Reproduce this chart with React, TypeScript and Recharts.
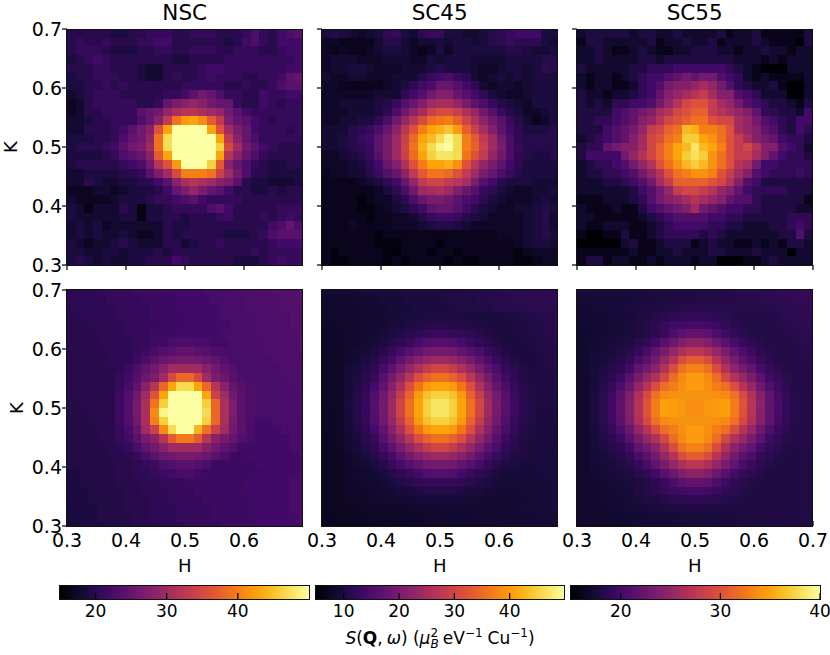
import { Bar, BarChart, Scatter, ScatterChart, XAxis, YAxis } from "recharts";

// measured panels, rows run from K = 0.7 down to K = 0.3
const nscMeasured = [
  [20,20,20,20,20,19,19,20,20,21,21,21,20,20,21,21,21,20,20,20,21,23,21,20,22,23,24],
  [20,21,20,20,21,20,20,20,21,21,22,22,20,20,20,20,20,20,19,20,22,23,21,20,22,22,22],
  [20,21,21,21,20,19,19,19,20,20,21,21,20,20,21,21,21,20,20,21,21,21,20,20,21,22,22],
  [19,20,21,22,21,20,20,20,20,20,20,20,19,19,20,20,20,20,21,21,21,21,21,21,21,21,22],
  [20,20,20,21,21,20,20,20,19,18,18,20,20,20,20,21,22,22,21,21,21,21,21,21,21,22,22],
  [19,20,20,21,21,21,20,20,19,18,18,20,21,20,20,21,22,21,21,21,20,20,21,21,22,24,25],
  [19,19,20,20,21,20,21,20,20,20,20,20,20,21,21,21,21,21,20,20,21,20,20,21,23,24,24],
  [18,19,20,21,21,21,20,20,20,20,20,21,21,22,24,26,25,23,21,21,20,20,22,21,21,22,22],
  [17,18,20,21,21,21,21,21,20,20,21,25,27,28,29,28,26,25,25,21,20,20,22,21,20,21,21],
  [17,18,20,20,21,21,21,21,24,25,26,29,31,32,32,31,30,29,26,24,22,21,21,21,21,21,21],
  [18,18,19,20,20,21,21,21,23,25,28,33,39,42,43,41,37,33,27,25,24,22,21,20,21,21,21],
  [18,18,20,20,20,21,22,24,26,28,36,43,55,55,55,55,43,36,30,27,25,22,21,21,21,20,21],
  [19,19,19,20,20,21,23,25,26,29,39,47,55,55,55,55,55,43,33,28,25,23,21,21,21,21,21],
  [19,20,20,20,21,22,24,26,27,30,39,47,55,55,55,55,55,46,35,30,26,24,22,21,20,20,20],
  [19,19,19,19,20,21,23,24,25,28,37,43,55,55,55,55,55,43,32,28,25,23,21,20,20,20,20],
  [19,20,20,20,20,20,21,22,23,26,32,36,42,55,55,55,46,37,28,25,23,21,20,19,19,20,20],
  [18,18,19,19,19,19,20,20,21,24,27,30,35,40,40,40,39,34,30,26,23,20,20,19,19,19,19],
  [18,18,20,19,18,18,19,19,20,20,22,24,28,31,32,31,30,28,27,24,20,19,19,18,18,18,19],
  [17,17,17,18,18,17,18,19,19,19,20,22,25,27,29,27,25,24,22,20,20,19,19,20,19,20,20],
  [18,17,17,17,17,18,19,19,19,20,21,21,22,23,24,22,21,21,21,21,20,20,20,20,20,20,20],
  [19,18,16,18,18,18,20,19,16,19,19,20,21,21,21,21,23,24,22,20,20,20,20,20,21,21,21],
  [19,18,18,18,18,18,19,19,16,19,19,20,20,19,20,20,20,21,22,20,20,20,21,20,21,22,21],
  [18,19,18,19,17,18,18,18,18,18,18,20,19,19,20,20,20,20,20,20,20,20,20,22,23,25,23],
  [18,19,18,19,18,18,19,18,17,17,18,20,19,20,20,20,20,20,19,19,19,20,21,23,24,24,24],
  [19,18,17,18,18,19,20,19,18,18,18,20,20,18,19,20,20,21,20,20,20,20,20,21,22,22,22],
  [19,19,18,18,19,19,18,19,19,19,20,19,20,20,20,20,20,20,20,20,20,21,20,21,21,21,21],
  [19,20,19,18,19,18,18,19,19,20,20,20,22,21,20,20,20,20,20,19,19,19,20,21,22,21,21],
];

const sc45Measured = [
  [10,11,10,9,8,9,10,12,13,10,9,12,13,13,10,10,9,9,10,11,12,13,14,14,14,10,10],
  [8,8,7,7,7,7,9,11,11,9,8,9,9,10,9,10,10,9,10,11,12,13,12,12,12,10,9],
  [8,7,8,7,7,8,9,10,10,9,8,7,8,10,8,10,10,10,10,10,10,11,11,10,9,9,10],
  [8,9,9,9,8,8,8,9,9,9,8,8,10,9,10,10,10,9,9,9,9,10,10,10,10,11,11],
  [8,9,9,10,10,9,8,8,8,9,9,9,10,11,10,10,10,9,8,8,9,10,10,9,10,12,11],
  [9,8,8,9,9,8,8,8,9,9,9,11,13,14,15,13,12,9,8,9,10,9,10,9,10,10,10],
  [8,8,7,7,7,7,7,8,9,10,12,14,15,18,18,16,14,12,9,8,9,9,8,9,10,10,10],
  [8,8,8,8,8,8,9,9,9,12,14,16,19,21,21,18,16,14,12,10,9,8,8,9,10,10,10],
  [8,8,9,9,9,9,10,11,13,16,18,21,24,25,25,23,20,17,15,13,11,10,9,8,10,10,10],
  [8,8,8,9,9,9,10,12,15,19,22,25,29,31,31,29,26,23,19,16,13,11,10,8,8,9,10],
  [8,8,9,9,10,10,12,15,19,23,27,31,35,36,37,34,30,26,22,19,16,13,11,9,7,8,10],
  [9,9,9,11,12,13,15,18,22,27,32,37,41,42,44,40,34,29,25,21,17,14,12,10,10,10,11],
  [9,9,10,11,13,14,17,20,24,29,35,41,43,46,49,46,37,33,28,24,19,15,12,11,11,11,11],
  [9,9,10,11,12,13,17,20,24,30,36,42,46,49,50,46,37,34,29,24,20,15,13,11,11,11,11],
  [8,8,9,10,11,13,16,20,24,29,35,41,45,47,47,46,36,32,28,23,19,15,12,11,10,10,11],
  [8,8,8,9,10,12,14,18,21,26,32,37,41,41,42,39,32,27,23,20,17,14,12,10,10,10,10],
  [7,8,8,9,9,11,13,16,18,22,28,33,36,36,35,32,28,24,20,18,15,13,11,10,10,10,10],
  [7,7,7,7,8,9,10,12,14,18,23,28,30,30,28,27,25,20,16,14,11,10,10,10,9,9,9],
  [7,7,7,7,7,7,8,10,12,15,19,24,25,26,24,21,18,16,13,12,10,9,8,8,9,9,10],
  [7,7,7,7,6,7,8,8,10,12,15,18,20,20,19,17,15,14,12,10,9,8,8,8,9,10,9],
  [7,7,7,7,6,6,7,8,9,10,12,14,17,18,18,16,14,12,10,9,8,8,9,9,10,11,10],
  [7,7,7,7,7,6,7,7,8,8,9,11,13,14,14,13,11,10,9,8,8,8,8,9,10,11,9],
  [7,7,7,8,7,7,7,7,8,8,8,9,10,11,11,10,9,8,8,8,8,8,8,9,10,11,9],
  [7,7,7,7,7,7,6,7,7,7,7,7,7,7,7,7,7,7,7,7,8,8,8,9,10,11,10],
  [7,7,7,7,7,7,6,6,6,7,7,7,7,6,7,7,7,7,7,7,7,7,8,9,10,10,9],
  [7,6,7,7,7,7,7,6,5,7,7,7,6,7,7,6,7,7,7,7,7,7,6,7,8,8,8],
  [7,6,6,7,7,7,7,6,7,6,7,7,7,7,6,7,6,6,7,7,7,7,6,6,7,8,8],
];

const sc55Measured = [
  [17,18,18,18,18,18,17,18,18,17,17,18,17,17,17,17,18,16,17,17,18,16,16,16,16,16,18],
  [16,18,18,17,17,17,17,17,18,16,17,17,18,17,17,18,16,17,17,17,18,17,16,16,16,15,18],
  [17,17,18,17,16,16,17,18,17,16,16,17,17,18,18,18,17,17,16,17,17,18,17,17,16,17,17],
  [17,17,18,17,17,17,17,18,18,17,18,18,18,18,18,18,18,18,17,17,17,16,17,16,17,17,17],
  [18,17,17,17,17,17,18,18,19,19,19,20,20,20,20,20,20,19,18,17,16,15,15,15,17,17,17],
  [17,16,17,17,16,17,18,19,20,20,21,22,23,22,23,23,21,20,19,17,16,17,16,16,16,16,17],
  [17,16,17,17,16,16,17,19,20,21,23,24,24,25,26,25,23,21,19,18,17,17,18,16,15,15,17],
  [18,17,17,16,17,17,18,19,20,22,24,25,26,27,28,26,24,24,21,20,19,17,17,17,15,15,17],
  [18,17,18,17,19,19,20,20,21,23,25,27,29,30,30,28,26,25,23,21,20,19,18,18,17,16,18],
  [18,18,18,18,20,21,22,23,24,26,27,29,30,31,31,28,27,26,25,24,22,19,19,18,18,17,20],
  [18,18,19,19,20,21,22,24,25,27,29,30,31,32,32,30,29,29,26,25,23,21,20,19,18,20,20],
  [18,18,18,20,21,22,23,25,28,29,31,32,36,35.5,33,33,32,30,26,25,24,22,21,19,18,20,19],
  [17,18,19,20,21,22,24,26,29,30,32,33,37,37,35,34,32,30,28,26,24,23,22,20,19,19,18],
  [18,19,19,22,23,24,24,26,29,31,33,35,36,38.5,36,35,33,30,28,29,27,24,24,21,20,19,17],
  [18,20,20,20,20,23,25,27,29,31,33,35,37,38,37,34,32,30,28,28,26,24,22,20,19,19,18],
  [17,18,19,19,20,21,23,25,27,30,32,34,36,37,36,34,32,30,27,26,23,20,20,19,19,19,19],
  [17,18,18,19,19,20,21,23,25,27,30,32,33,34,34,33,30,28,26,24,21,20,19,19,19,20,19],
  [17,17,17,18,18,19,20,21,23,26,28,31,31,31,31,30,29,27,24,21,20,18,18,18,18,18,18],
  [17,17,17,17,17,17,18,20,21,23,25,28,29,29,28,27,25,24,22,20,19,19,19,19,18,18,18],
  [16,16,16,17,17,17,18,19,21,23,24,25,26,27,26,25,24,22,21,21,19,18,18,18,18,18,16],
  [17,16,16,16,17,16,16,18,20,21,22,23,24,26,23,22,21,20,20,19,19,18,18,18,18,17,17],
  [17,17,16,16,16,16,16,17,18,19,20,21,21,21,21,20,20,19,19,18,18,18,18,18,19,19,19],
  [17,16,16,17,17,17,16,16,17,18,19,20,20,20,20,19,19,18,18,17,17,17,18,18,19,20,19],
  [16,15,15,16,16,18,16,16,17,18,19,19,19,19,18,19,18,17,17,17,17,17,17,18,18,21,18],
  [15,15,15,15,15,17,18,16,16,17,18,18,18,16,17,18,17,17,16,16,17,16,17,16,18,18,17],
  [16,16,16,16,16,16,17,16,16,17,17,18,17,17,17,18,18,17,17,17,18,17,17,17,15,17,17],
  [16,18,18,16,17,17,16,16,17,16,17,17,17,16,17,17,15,15,15,16,16,17,18,17,17,17,17],
];

// model panels, 28 points per row
const nscModel = [
  [20.5,20.5,20.5,20.5,21,21,21,21,21.5,21.5,21.5,21.5,22,22,22,22,22.5,22.5,22.5,22.5,23,23,23,23,23.5,23.5,23.5,24],
  [20.5,20.5,20.5,20.5,20.5,21,21,21,21,21.5,21.5,21.5,21.5,22,22,22,22,22.5,22.5,22.5,22.5,23,23,23,23,23.5,23.5,24],
  [20,20.5,20.5,20.5,20.5,20.5,21,21,21,21,21.5,21.5,21.5,22,22,22,22,22,22.5,22.5,22.5,23,23,23,23,23.5,23.5,23.5],
  [20,20,20.5,20.5,20.5,20.5,21,21,21,21,21.5,21.5,21.5,21.5,22,22,22,22,22.5,22.5,22.5,22.5,23,23,23,23,23.5,23.5],
  [20,20,20,20.5,20.5,20.5,20.5,21,21,21,21,21.5,21.5,21.5,22,22,22,22,22,22.5,22.5,22.5,23,23,23,23,23.5,23.5],
  [20,20,20,20,20.5,20.5,20.5,21,21,21,21.5,21.5,21.5,22,22,22,22,22,22.5,22.5,22.5,22.5,23,23,23,23,23,23.5],
  [20,20,20,20,20.5,20.5,20.5,20.5,21,21,21.5,22,22.5,23,23,22.5,22.5,22,22,22.5,22.5,22.5,22.5,23,23,23,23,23.5],
  [20,20,20,20,20,20.5,20.5,20.5,21,21.5,22.5,23.5,24,24.5,24.5,24,23.5,23,22.5,22.5,22.5,22.5,22.5,23,23,23,23,23.5],
  [20,20,20,20,20,20.5,20.5,20.5,21.5,22.5,24,25.5,26,26.5,26.5,26,25.5,24.5,23.5,22.5,22.5,22.5,22.5,22.5,23,23,23,23],
  [20,20,20,20,20,20,20.5,21.5,23,24.5,26,28,30,30,30,30,28,26,24.5,23.5,22.5,22.5,22.5,22.5,22.5,23,23,23],
  [20,20,20,20,20,20,21,22,23.5,25.5,27,30,35,38,38,35,30,27,25.5,24,23,22.5,22.5,22.5,22.5,23,23,23],
  [20,20,20,20,20,20,21,22.5,24.5,28,32,38,43,47,47,43,38,32,28,25,23.5,23,22.5,22.5,22.5,22.5,23,23],
  [20,20,20,20,20,20,21.5,23.5,26,30,36,43,55,55,55,55,43,34,30,26,24,23,22.5,22.5,22.5,22.5,22.5,23],
  [19.5,19.5,20,20,20,20,21.5,23.5,26.5,31,39,46,55,55,55,55,46,38,31,27,24,23,22.5,22.5,22.5,22.5,22.5,23],
  [19.5,19.5,19.5,20,20,20,21.5,23.5,26.5,31,41,49,55,55,55,55,47,38,31,27,24,23,22.5,22.5,22.5,22.5,22.5,23],
  [19.5,19.5,19.5,20,20,20,21.5,23.5,26,31,40,46,55,55,55,55,46,38,31,26.5,24,23,22,22,22.5,22.5,22.5,22.5],
  [19.5,19.5,19.5,19.5,20,20,21,22.5,25,30,34,41,47,51,50,44,39,34,30,26,24,22.5,22,22,22,22.5,22.5,22.5],
  [19.5,19.5,19.5,19.5,20,20,21,22,24,26.5,28,32,37,39.5,39.5,37,32,28,26.5,25,23.5,22.5,22,22,22,22,22.5,22.5],
  [19.5,19.5,19.5,19.5,19.5,20,20.5,21,22.5,24.5,26,28,30,30,30,30,28,26,24.5,23.5,22,22,22,22,22,22,22.5,22.5],
  [19.5,19.5,19.5,19.5,19.5,20,20,20.5,21,22.5,24,25.5,26,26.5,26.5,26,25.5,24,23,21.5,21.5,22,22,22,22,22,22,22.5],
  [19.5,19.5,19.5,19.5,19.5,19.5,20,20,20.5,21,21.5,23,23.5,24,24,23.5,23,21.5,21.5,21.5,21.5,21.5,22,22,22,22,22,22],
  [19,19,19.5,19.5,19.5,19.5,20,20,20.5,20.5,21,21.5,22,22.5,22.5,22,21.5,21.5,21.5,21.5,21.5,21.5,21.5,22,22,22,22,22.5],
  [19,19,19.5,19.5,19.5,19.5,20,20,20,20.5,20.5,21,21,21,21.5,21.5,21.5,21.5,21.5,21.5,21.5,22,22,22,22,22,22.5,22.5],
  [19,19,19,19.5,19.5,19.5,19.5,20,20,20.5,20.5,20.5,21,21,21,21.5,21.5,21.5,21.5,21.5,21.5,22,22,22,22,22,22.5,22.5],
  [19,19,19,19.5,19.5,19.5,19.5,20,20,20,20.5,20.5,21,21,21,21,21.5,21.5,21.5,21.5,21.5,21.5,22,22,22,22,22.5,22.5],
  [18.5,19,19,19,19.5,19.5,19.5,20,20,20,20.5,20.5,20.5,21,21,21,21,21.5,21.5,21.5,21.5,21.5,22,22,22,22,22.5,22.5],
  [18.5,19,19,19,19.5,19.5,19.5,19.5,20,20,20.5,20.5,20.5,21,21,21,21,21.5,21.5,21.5,21.5,21.5,22,22,22,22,22,22.5],
  [18.5,18.5,19,19,19,19.5,19.5,19.5,20,20,20,20.5,20.5,20.5,21,21,21,21,21.5,21.5,21.5,21.5,22,22,22,22,22,22.5],
];

const sc45Model = [
  [9,9,9,9,9,9.5,9.5,9.5,10,10,10,10,10,10.5,10.5,10.5,10.5,11,11,11,11,11.5,11.5,11.5,11.5,12,12,12],
  [8.5,8.5,8.5,8.5,9,9,9,9.5,9.5,9.5,10,10,10,10,10.5,10.5,10.5,10.5,11,11,11,11,11.5,11.5,11.5,11.5,12,12],
  [8.5,8.5,8.5,8.5,8.5,9,9,9,9.5,9.5,9.5,10,10,10,10,10.5,10.5,10.5,10.5,10.5,11,11,11,11,11.5,11.5,11.5,12],
  [8.5,8.5,8.5,8.5,8.7,8.8,9,9.1,9.3,9.5,9.8,10,10.2,10.3,10.3,10.3,10.2,10,9.9,9.8,10,10.1,10.3,10.5,10.7,11,11.3,11.7],
  [8.3,8.3,8.4,8.5,8.6,8.8,9,9.2,9.5,9.8,10.3,10.6,11,11.2,11.2,11,10.8,10.5,10.3,10,9.8,10,10.2,10.4,10.6,10.9,11.2,11.5],
  [8.2,8.2,8.3,8.5,8.7,8.9,9.2,9.6,10.1,10.8,11.4,12.1,12.6,12.9,12.9,12.6,12.2,11.7,11.2,10.5,10.2,10,10.1,10.3,10.5,10.8,11,11.3],
  [8.1,8.1,8.2,8.5,8.7,9,9.4,10,11,12,13,14.5,15.5,16,16,15.5,14.6,13.2,12.3,11.3,10.5,10.1,10,10.1,10.4,10.7,10.9,11.2],
  [8,8,8.1,8.5,9,9.4,10,11.2,12.6,14.5,16,17.5,19,19.5,19.5,19,17.6,16.2,14.8,13,11.7,10.6,10.2,10.1,10.2,10.5,10.8,11.1],
  [8,8,8,8.7,9.3,10,11,12.6,14.5,17,19.5,21.5,23,24,24,23,21.6,19.7,17.3,14.9,13.1,11.6,10.7,10.2,10.1,10.4,10.7,11],
  [7.9,7.9,8,9,9.8,10.8,12,14.5,17,20,23,26,28.5,30,30,28.5,26,23.2,20.2,17.3,14.9,12.6,11.5,10.6,10.2,10.3,10.6,10.9],
  [7.9,7.9,8,9.3,10,11.3,13,16,19.5,23,27,31.5,34,35.6,35.6,34,31.5,27.2,23.2,19.7,16.4,13.6,12,10.8,10.4,10.3,10.5,10.8],
  [7.8,7.8,8,9.5,10.5,12,14.5,17.5,21.5,26,31.5,36,40,41,41,40,36,31.5,26.2,21.7,17.9,15,12.7,11.3,10.5,10.3,10.4,10.7],
  [7.8,7.8,8,9.7,10.8,12.5,15.5,19,23,28.5,34,40,43.5,45,45,43.5,40,34,28.7,23.2,19.4,16,13.2,11.6,10.7,10.3,10.4,10.6],
  [7.8,7.8,8,9.8,11,12.8,16,19.5,24,30,35.6,41,45,47,47,45,41,35.6,30.2,24.2,19.9,16.5,13.5,11.8,10.8,10.3,10.3,10.5],
  [7.7,7.7,7.9,9.7,10.9,12.7,15.9,19.4,24,30,35.6,41,45,47,47,45,41,35.6,30,24,19.8,16.3,13.3,11.6,10.7,10.2,10.2,10.4],
  [7.7,7.7,7.9,9.5,10.7,12.4,15.4,19,23,28.5,34,40,43.5,45,45,43.5,40,34,28.5,23.1,19.2,15.8,13,11.4,10.5,10.1,10.1,10.3],
  [7.7,7.7,7.9,9.3,10.4,11.9,14.4,17.5,21.5,26,31.5,36,40,41,41,40,36,31.5,26,21.6,17.7,14.8,12.4,11,10.3,10,10,10.2],
  [7.6,7.6,7.8,9.1,9.9,11.2,12.9,16,19.5,23,27,31.5,34,35.6,35.6,34,31.5,27,23,19.5,16.2,13.4,11.8,10.6,10.1,10,10,10.1],
  [7.6,7.6,7.8,8.8,9.7,10.7,11.9,14.4,17,20,23,26,28.5,30,30,28.5,26,23,20,17,14.7,12.4,11.2,10.4,10,9.9,9.9,10],
  [7.5,7.5,7.7,8.5,9.2,9.9,10.9,12.5,14.5,17,19.5,21.5,23,24,24,23,21.5,19.5,17,14.7,12.9,11.3,10.4,10,9.8,9.8,9.9,10],
  [7.5,7.5,7.6,8.3,8.8,9.3,9.9,11.1,12.6,14.5,16,17.5,19,19.5,19.5,19,17.5,16,14.5,12.8,11.4,10.3,10,9.7,9.7,9.8,9.8,9.9],
  [7.5,7.5,7.5,8.1,8.5,8.9,9.3,9.9,10.9,11.9,13,14.5,15.5,16,16,15.5,14.5,13,12,11,10.2,9.7,9.5,9.5,9.6,9.7,9.8,9.9],
  [7.4,7.4,7.5,8,8.3,8.6,8.9,9.4,9.9,10.7,11.2,12,12.4,12.7,12.7,12.4,12,11.3,10.8,10,9.7,9.4,9.3,9.4,9.5,9.6,9.7,9.8],
  [7.4,7.4,7.5,7.9,8.1,8.3,8.6,8.9,9.2,9.7,9.9,10.4,10.7,10.9,10.9,10.7,10.4,10,9.8,9.4,9.2,9.1,9.2,9.3,9.4,9.5,9.6,9.7],
  [7.4,7.4,7.5,7.8,8,8.2,8.4,8.6,8.8,9,9.2,9.4,9.6,9.7,9.7,9.6,9.4,9.3,9.1,9,8.9,9,9.1,9.2,9.3,9.4,9.5,9.6],
  [7.4,7.4,7.5,7.6,7.7,7.8,8,8.1,8.2,8.3,8.4,8.5,8.6,8.7,8.8,8.8,8.8,8.8,8.9,8.9,9,9.1,9.2,9.3,9.3,9.4,9.5,9.6],
  [7.3,7.3,7.4,7.5,7.6,7.7,7.8,7.9,8,8.1,8.2,8.3,8.4,8.5,8.6,8.6,8.7,8.7,8.8,8.8,8.9,9,9.1,9.1,9.2,9.3,9.4,9.5],
  [7.2,7.3,7.4,7.5,7.5,7.6,7.7,7.8,7.9,8,8.1,8.2,8.3,8.3,8.4,8.5,8.6,8.6,8.7,8.8,8.8,8.9,9,9,9.1,9.2,9.3,9.4],
];

const sc55Model = [
  [17.5,17.5,17.5,17.5,17.6,17.6,17.7,17.7,17.8,17.8,17.9,18,18,18.1,18.2,18.2,18.3,18.4,18.5,18.5,18.6,18.7,18.8,18.9,19,19.1,19.2,19.3],
  [17.4,17.4,17.4,17.5,17.5,17.6,17.6,17.7,17.7,17.8,17.8,17.9,18,18,18.1,18.1,18.2,18.3,18.4,18.4,18.5,18.6,18.7,18.8,18.9,19,19.1,19.2],
  [17.3,17.3,17.4,17.4,17.5,17.6,17.7,17.8,17.9,18,18.1,18.3,18.4,18.5,18.5,18.5,18.4,18.4,18.4,18.4,18.4,18.4,18.5,18.6,18.7,18.8,18.9,19.1],
  [17.2,17.2,17.2,17.3,17.4,17.5,17.6,17.8,18,18.2,18.5,18.8,19,19.1,19.1,19,18.8,18.6,18.4,18.3,18.2,18.2,18.3,18.4,18.6,18.7,18.8,19],
  [17.2,17.2,17.2,17.3,17.4,17.5,17.7,18,18.3,18.8,19.3,19.8,20,20.2,20.2,20,19.6,19.1,18.7,18.4,18.2,18.1,18.2,18.4,18.5,18.6,18.8,18.9],
  [17.1,17.1,17.2,17.3,17.4,17.5,17.7,18,18.3,18.8,19.5,20.5,21.5,22,22,21.5,20.7,19.8,19.1,18.7,18.4,18.2,18.2,18.3,18.4,18.5,18.7,18.8],
  [17.1,17.1,17.3,17.4,17.5,17.7,18,18.5,19,20,21.3,22.5,23.8,24.5,24.5,23.8,22.6,21.5,20.3,19.3,18.9,18.5,18.2,18.2,18.3,18.4,18.6,18.7],
  [17,17,17.3,17.5,17.7,18,18.5,19.3,20.3,21.8,23.3,25,26.5,27.5,27.5,26.5,25,23.4,22,20.5,19.7,18.9,18.5,18.2,18.2,18.3,18.5,18.6],
  [17,17,17.4,17.7,18,18.3,19,20.3,21.3,23,25,27,29.5,30.7,30.7,29.5,27,25,23.1,21.5,20.6,19.4,18.7,18.4,18.2,18.2,18.4,18.5],
  [17,17,17.5,18,18.3,18.8,20,21.8,23,24.5,26.8,29.5,32,33,33,32,29.5,26.8,24.6,23.1,22,20.3,19.2,18.7,18.4,18.2,18.3,18.5],
  [16.9,16.9,17.6,18.1,18.7,19.5,21.3,23.3,25,26.8,29,31.8,33.5,34.5,34.5,33.5,31.8,29,26.9,25.1,23.5,21.6,19.9,19.2,18.6,18.3,18.3,18.4],
  [16.9,16.9,17.7,18.4,19.2,20.5,22.5,25,27,29.5,31.8,32.8,33.8,34.5,34.5,33.8,32.8,31.8,29.6,27.1,25.2,22.8,20.9,19.7,18.9,18.3,18.3,18.4],
  [16.9,16.9,17.8,18.6,19.7,21.5,23.8,26.5,29.3,32,33.5,33.8,34,34,34,34,33.8,33.5,32,29.4,26.7,24.1,21.9,20.2,19.1,18.4,18.3,18.3],
  [16.9,16.9,17.8,18.7,19.9,21.7,24,27,30,32.7,34.7,34.5,34.3,33.7,33.7,34.3,34.5,34.7,32.7,30.1,27.2,24.3,22,20.4,19.2,18.4,18.3,18.3],
  [16.9,16.9,17.8,18.7,19.9,21.7,24,27,30,32.7,34.7,34.5,34.3,33.7,33.7,34.3,34.5,34.7,32.7,30,27.1,24.2,21.9,20.3,19.1,18.4,18.3,18.3],
  [16.9,16.9,17.8,18.6,19.7,21.5,23.8,26.5,29.3,32,33.5,33.8,34,34,34,34,33.8,33.5,32,29.3,26.6,24,21.8,20.1,19,18.4,18.2,18.3],
  [16.9,16.9,17.7,18.4,19.2,20.5,22.5,25,27,29.5,31.8,32.8,33.8,34.5,34.5,33.8,32.8,31.8,29.5,27,25.1,22.7,20.8,19.6,18.8,18.3,18.2,18.3],
  [16.9,16.9,17.6,18.1,18.7,19.5,21.3,23.3,25,26.8,29,31.8,33.5,34.5,34.5,33.5,31.8,29,26.8,25,23.4,21.5,19.8,19,18.5,18.2,18.2,18.2],
  [16.9,16.9,17.5,18,18.3,18.8,20,21.8,23,24.5,26.8,29.5,32,33,33,32,29.5,26.8,24.5,23,21.9,20.2,19.1,18.6,18.3,18.1,18.2,18.2],
  [16.9,16.9,17.4,17.7,18,18.3,19,20.3,21.3,23,25,27,29.5,30.7,30.7,29.5,27,25,23,21.4,20.5,19.3,18.6,18.3,18.1,18,18.1,18.2],
  [16.9,16.9,17.3,17.5,17.7,18,18.5,19.3,20.3,21.8,23.3,25,26.5,27.5,27.5,26.5,25,23.3,21.9,20.4,19.6,18.8,18.4,18.1,18,18,18.1,18.2],
  [16.9,16.9,17.2,17.4,17.5,17.7,18,18.5,19,20,21.3,22.5,23.8,24.5,24.5,23.8,22.5,21.4,20.2,19.2,18.8,18.4,18.1,18,18,18,18.1,18.2],
  [16.9,16.9,17.1,17.3,17.4,17.5,17.7,18,18.3,18.8,19.5,20.5,21.5,22,22,21.5,20.6,19.7,19,18.6,18.3,18.1,18,18,18,18,18.1,18.2],
  [16.9,16.9,17.1,17.2,17.3,17.4,17.6,17.9,18.2,18.7,19.2,19.7,19.9,20.1,20.1,19.9,19.5,19,18.6,18.3,18.1,18,18,18,18,18,18.1,18.2],
  [16.9,16.9,17.1,17.2,17.2,17.3,17.5,17.7,17.9,18.1,18.4,18.6,18.8,18.9,18.9,18.8,18.6,18.4,18.2,18.1,18,18,18,18,18,18,18.1,18.2],
  [16.9,16.9,17,17.1,17.2,17.3,17.4,17.5,17.6,17.7,17.8,17.9,18,18,18,18,18,18,18,18,18,18,18,18,18,18,18.1,18.2],
  [16.9,16.9,17,17,17.1,17.1,17.2,17.2,17.3,17.3,17.4,17.4,17.5,17.5,17.6,17.6,17.7,17.7,17.8,17.8,17.9,17.9,18,18,18,18,18.1,18.1],
  [16.8,16.8,16.9,17,17,17.1,17.1,17.2,17.2,17.3,17.3,17.4,17.4,17.5,17.5,17.6,17.6,17.7,17.7,17.8,17.8,17.9,17.9,18,18,18,18,18.1],
];

const panelTitles = ["NSC", "SC45", "SC55"];
const colorRanges = [[15, 50], [5, 50], [15, 40]];
const colorTicks = [[20, 30, 40], [10, 20, 30, 40], [20, 30, 40]];
const axisTicks = [0.3, 0.4, 0.5, 0.6, 0.7];
const infernoStops = ["#000004", "#160b39", "#420a68", "#6a176e", "#932667", "#bc3754", "#dd513a", "#f37819", "#fca50a", "#f6d746", "#fcffa4"];

const FONT = "'DejaVu Sans', sans-serif";
const PLOT = 236;
const STEP = 0.4 / 27;
const CELL = PLOT / 27;
const PAD_LEFT = 62;
const PAD_TOP = 10;
const panelX = [66.7, 321.7, 576.7];
const panelY = [29.3, 290];
const barX = [60, 315.8, 571];
const BAR_W = 249;

function hexToRgb(hex: string) {
  return [1, 3, 5].map((i) => parseInt(hex.slice(i, i + 2), 16));
}

function inferno(value: number, min: number, max: number) {
  const t = Math.min(1, Math.max(0, (value - min) / (max - min))) * 10;
  const i = Math.min(9, Math.floor(t));
  const a = hexToRgb(infernoStops[i]);
  const b = hexToRgb(infernoStops[i + 1]);
  const c = a.map((v, n) => Math.round(v + (b[n] - v) * (t - i)));
  return `rgb(${c[0]},${c[1]},${c[2]})`;
}

function toPoints(grid: number[][], model: boolean) {
  return grid.flatMap((row, r) =>
    row.map((v, i) => ({
      h: model ? 0.3 + i * STEP : 0.3 + (i + 0.5) * STEP,
      k: model ? 0.7 - r * STEP : 0.7 - (r + 0.5) * STEP,
      v,
    }))
  );
}

function Label({ x, y, size, rotate, children }: any) {
  return (
    <div
      style={{
        position: "absolute",
        left: x,
        top: y,
        transform: `translate(-50%, -50%)${rotate ? " rotate(-90deg)" : ""}`,
        fontFamily: FONT,
        fontSize: size,
        color: "#000",
        whiteSpace: "nowrap",
      }}
    >
      {children}
    </div>
  );
}

function Heatmap({ grid, model, col, row }: { grid: number[][]; model: boolean; col: number; row: number }) {
  const [min, max] = colorRanges[col];
  const left = panelX[col];
  const top = panelY[row];
  const xTicks = col === 2 ? axisTicks : axisTicks.slice(0, 4);
  const showX = row === 1;
  const showY = col === 0;
  const tickSize = row === 1 ? -5 : 5;
  const tickMargin = row === 1 ? 13 : 1;

  const cell = (props: any) => {
    const x0 = Math.max(props.cx - CELL / 2, PAD_LEFT);
    const x1 = Math.min(props.cx + CELL / 2, PAD_LEFT + PLOT);
    const y0 = Math.max(props.cy - CELL / 2, PAD_TOP);
    const y1 = Math.min(props.cy + CELL / 2, PAD_TOP + PLOT);
    return (
      <rect
        x={x0}
        y={y0}
        width={x1 - x0 + 0.3}
        height={y1 - y0 + 0.3}
        fill={inferno(props.payload.v, min, max)}
        shapeRendering="crispEdges"
      />
    );
  };

  return (
    <>
      <div style={{ position: "absolute", left: left - PAD_LEFT, top: top - PAD_TOP }}>
        <ScatterChart
          width={PAD_LEFT + PLOT + 20}
          height={PAD_TOP + PLOT + 50}
          margin={{ top: PAD_TOP, right: 20, bottom: 0, left: 0 }}
        >
          <Scatter data={toPoints(grid, model)} dataKey="k" shape={cell} isAnimationActive={false} />
          <XAxis
            type="number"
            dataKey="h"
            domain={[0.3, 0.7]}
            allowDataOverflow
            ticks={xTicks}
            interval={0}
            height={50}
            axisLine={false}
            tickSize={tickSize}
            tickMargin={tickMargin}
            tickLine={{ stroke: "#000", strokeWidth: 1.2 }}
            tick={{ fill: "#000", fontSize: 19, fontFamily: FONT }}
            tickFormatter={(v: number) => (showX ? v.toFixed(1) : "")}
          />
          <YAxis
            type="number"
            dataKey="k"
            domain={[0.3, 0.7]}
            allowDataOverflow
            ticks={axisTicks}
            interval={0}
            width={PAD_LEFT}
            axisLine={false}
            tickSize={col === 0 ? 5 : row === 1 ? -5 : 5}
            tickMargin={col === 0 ? 0 : row === 1 ? 11 : 1}
            tickLine={{ stroke: "#000", strokeWidth: 1.2 }}
            tick={{ fill: "#000", fontSize: 19, fontFamily: FONT }}
            tickFormatter={(v: number) => (showY ? v.toFixed(1) : "")}
          />
        </ScatterChart>
      </div>
      <div
        style={{
          position: "absolute",
          left: left - 0.7,
          top: top - 0.7,
          width: PLOT + 1.4,
          height: PLOT + 1.4,
          boxSizing: "border-box",
          border: "1.4px solid #111",
          pointerEvents: "none",
        }}
      />
    </>
  );
}

function Colorbar({ col }: { col: number }) {
  const [min, max] = colorRanges[col];
  const id = `inferno-${col}`;
  return (
    <>
      <div style={{ position: "absolute", left: barX[col], top: 586 }}>
        <BarChart
          width={BAR_W + 16}
          height={42}
          layout="vertical"
          data={[{ band: "s", span: [min, max] }]}
          barCategoryGap={0}
          margin={{ top: 0, right: 16, bottom: 0, left: 0 }}
        >
          <defs>
            <linearGradient id={id} x1="0" y1="0" x2="1" y2="0">
              {infernoStops.map((c, i) => (
                <stop key={c} offset={i / 10} stopColor={c} />
              ))}
            </linearGradient>
          </defs>
          <Bar dataKey="span" fill={`url(#${id})`} isAnimationActive={false} />
          <XAxis
            type="number"
            domain={[min, max]}
            ticks={colorTicks[col]}
            interval={0}
            height={29}
            axisLine={false}
            tickSize={-6}
            tickMargin={12}
            tickLine={{ stroke: "#000", strokeWidth: 1.2 }}
            tick={{ fill: "#000", fontSize: 17, fontFamily: FONT }}
          />
          <YAxis type="category" dataKey="band" hide />
        </BarChart>
      </div>
      <div
        style={{
          position: "absolute",
          left: barX[col] - 0.7,
          top: 585.3,
          width: BAR_W + 1.4,
          height: 14.4,
          boxSizing: "border-box",
          border: "1.4px solid #111",
          pointerEvents: "none",
        }}
      />
    </>
  );
}

export default function App() {
  const measured = [nscMeasured, sc45Measured, sc55Measured];
  const models = [nscModel, sc45Model, sc55Model];
  return (
    <div style={{ position: "absolute", left: 0, top: 0, width: 830, height: 655, background: "#fff", overflow: "hidden" }}>
      {measured.map((grid, col) => (
        <Heatmap key={col} grid={grid} model={false} col={col} row={0} />
      ))}
      {models.map((grid, col) => (
        <Heatmap key={col} grid={grid} model col={col} row={1} />
      ))}
      {colorRanges.map((_, col) => (
        <Colorbar key={col} col={col} />
      ))}
      {panelTitles.map((title, col) => (
        <Label key={title} x={panelX[col] + PLOT / 2} y={12} size={21.5}>
          {title}
        </Label>
      ))}
      {panelX.map((x) => (
        <Label key={x} x={x + PLOT / 2} y={565} size={18}>
          H
        </Label>
      ))}
      <Label x={10} y={147} size={18} rotate>
        K
      </Label>
      <Label x={16} y={408} size={18} rotate>
        K
      </Label>
      <svg style={{ position: "absolute", left: 0, top: 620, overflow: "visible" }} width={830} height={35}>
        <text x={440} y={24} textAnchor="middle" fontFamily={FONT} fontSize={17} fill="#000">
          <tspan fontStyle="italic">S</tspan>(<tspan fontWeight="bold">Q</tspan>,<tspan dx={4} fontStyle="italic">ω</tspan>) (
          <tspan fontStyle="italic">μ</tspan>
          <tspan fontSize={12} dy={-7}>2</tspan>
          <tspan fontSize={12} fontStyle="italic" dx={-7.5} dy={11}>B</tspan>
          <tspan dy={-4} dx={4}>eV</tspan>
          <tspan fontSize={12} dy={-7}>−1</tspan>
          <tspan dy={7} dx={5}>Cu</tspan>
          <tspan fontSize={12} dy={-7}>−1</tspan>
          <tspan dy={7}>)</tspan>
        </text>
      </svg>
    </div>
  );
}
